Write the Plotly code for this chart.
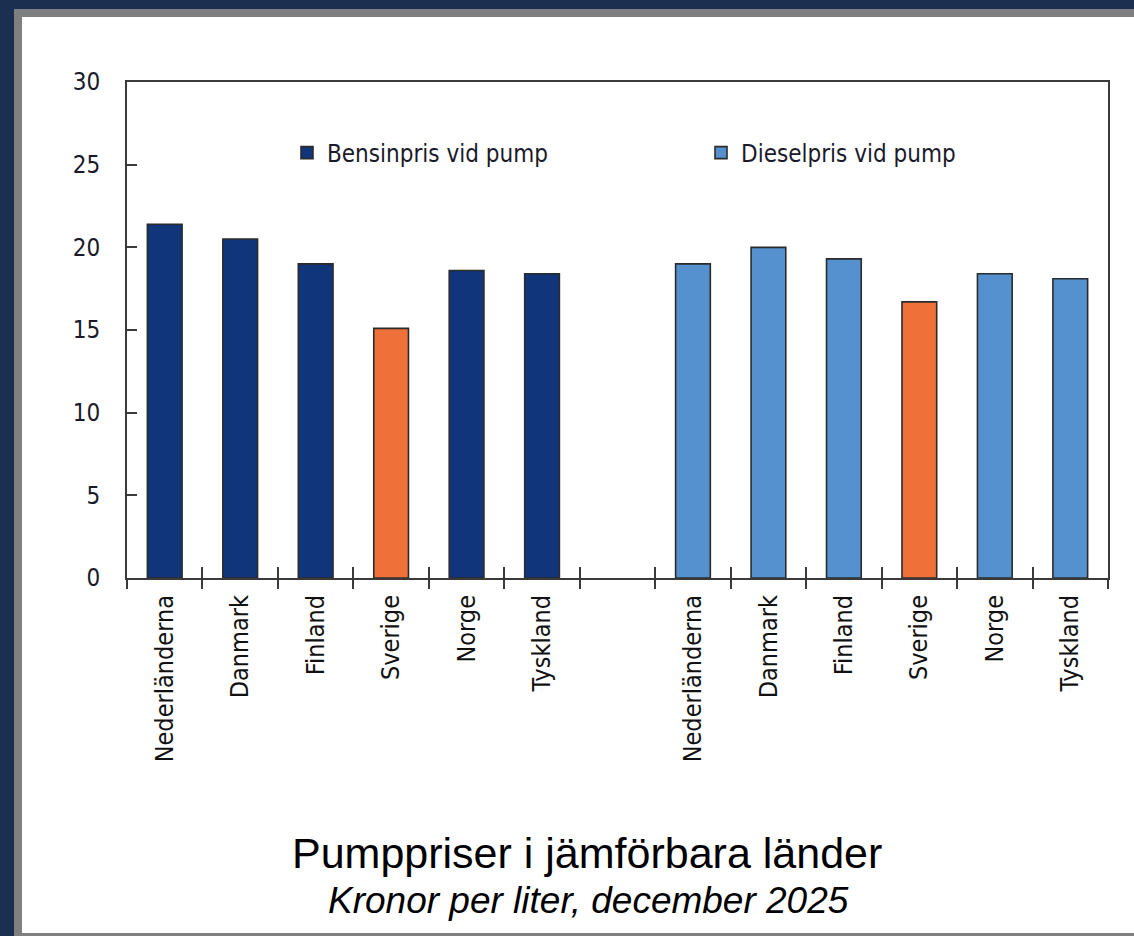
import plotly.graph_objects as go

# ---- data ----
countries = ["Nederländerna", "Danmark", "Finland", "Sverige", "Norge", "Tyskland"]
bensin = [21.4, 20.5, 19.0, 15.1, 18.6, 18.4]
diesel = [19.0, 20.0, 19.3, 16.7, 18.4, 18.1]
highlight = "Sverige"
y_ticks = [0, 5, 10, 15, 20, 25, 30]
series_names = ["Bensinpris vid pump", "Dieselpris vid pump"]
title = "Pumppriser i jämförbara länder"
subtitle = "Kronor per liter, december 2025"

# ---- style ----
NAVY = "#10357a"
LIGHT = "#5591cf"
ORANGE = "#f0703a"
EDGE = "#2b2b2b"
AXIS = "#3a3a3a"
COND = "Liberation Sans Narrow, Arial Narrow, DejaVu Sans Condensed, sans-serif"
W, H = 1134, 936
L, R, T, B = 127, 1108, 82, 578


def px(x):
    return (x - L) / (R - L)


def py(y):
    return (B - y) / (B - T)


n = len(countries)
x_b = list(range(n))
x_d = [n + 1 + i for i in range(n)]
cols_b = [ORANGE if c == highlight else NAVY for c in countries]
cols_d = [ORANGE if c == highlight else LIGHT for c in countries]
boundaries = [i - 0.5 for i in range(2 * n + 2)]

fig = go.Figure()
fig.add_trace(go.Bar(x=x_b, y=bensin, name=series_names[0], width=0.46,
                     marker=dict(color=cols_b, line=dict(color=EDGE, width=1.6)),
                     legend="legend"))
fig.add_trace(go.Bar(x=x_d, y=diesel, name=series_names[1], width=0.46,
                     marker=dict(color=cols_d, line=dict(color=EDGE, width=1.6)),
                     legend="legend2"))

legend_font = dict(family=COND, size=24, color="#1a1a2a")
shapes = []
for (x0, y0, x1, y1, c) in [
    (0, 0, W, 9, "#1b2f50"), (0, 0, 14, H, "#1b2f50"),
    (14, 9, W, 17, "#7f7f7f"), (14, 9, 22, H, "#7f7f7f"), (14, 933, W, H, "#7f7f7f"),
]:
    shapes.append(dict(type="rect", xref="paper", yref="paper",
                       x0=px(x0), x1=px(x1), y0=py(y1), y1=py(y0),
                       fillcolor=c, line=dict(width=0), layer="below"))

fig.update_layout(
    width=W, height=H,
    margin=dict(l=L, r=W - R, t=T, b=H - B, pad=0),
    paper_bgcolor="white", plot_bgcolor="white",
    barmode="overlay",
    showlegend=True,
    legend=dict(x=px(287), y=py(153), xanchor="left", yanchor="middle",
                font=legend_font, bgcolor="rgba(0,0,0,0)"),
    legend2=dict(x=px(701), y=py(153), xanchor="left", yanchor="middle",
                 font=legend_font, bgcolor="rgba(0,0,0,0)"),
    xaxis=dict(range=[-0.5, 2 * n + 0.5], tickmode="array",
               tickvals=x_b + x_d, ticktext=countries + countries,
               tickangle=-90, ticks="", showline=True, linecolor=AXIS, linewidth=2,
               mirror=True, showgrid=False, zeroline=False,
               tickfont=dict(family=COND, size=25, color="#111111"),
               ticklabelstandoff=5),
    xaxis2=dict(range=[-0.5, 2 * n + 0.5], overlaying="x", anchor="y",
                tickmode="array", tickvals=boundaries, ticks="outside", ticklen=10,
                tickwidth=2, tickcolor=AXIS, showticklabels=False, showline=False,
                showgrid=False, zeroline=False),
    xaxis3=dict(range=[-0.5, 2 * n + 0.5], overlaying="x", anchor="y",
                tickmode="array", tickvals=boundaries, ticks="inside", ticklen=11,
                tickwidth=2, tickcolor=AXIS, showticklabels=False, showline=False,
                showgrid=False, zeroline=False),
    yaxis=dict(range=[0, 30], tickmode="array", tickvals=y_ticks, ticks="inside",
               ticklen=10, tickwidth=2, tickcolor=AXIS, showline=True, linecolor=AXIS,
               linewidth=2, mirror=True, showgrid=False, zeroline=False,
               tickfont=dict(family=COND, size=24, color="#1a1a2a"),
               ticklabelstandoff=20),
    shapes=shapes,
    annotations=[
        dict(text=title, xref="paper", yref="paper", x=px(587), y=py(853),
             xanchor="center", yanchor="middle", showarrow=False,
             font=dict(family="Liberation Sans, Arial, sans-serif", size=43, color="black")),
        dict(text="<i>" + subtitle + "</i>", xref="paper", yref="paper", x=px(588), y=py(900),
             xanchor="center", yanchor="middle", showarrow=False,
             font=dict(family="Liberation Sans, Arial, sans-serif", size=37, color="black")),
    ],
)

# dummy traces so overlay axes are drawn
fig.add_trace(go.Scatter(x=[None], y=[None], xaxis="x2", showlegend=False, hoverinfo="skip"))
fig.add_trace(go.Scatter(x=[None], y=[None], xaxis="x3", showlegend=False, hoverinfo="skip"))

fig.write_html("out.html", config={"displayModeBar": False},
               post_script="document.body.style.margin='0';document.body.style.overflow='hidden';")
